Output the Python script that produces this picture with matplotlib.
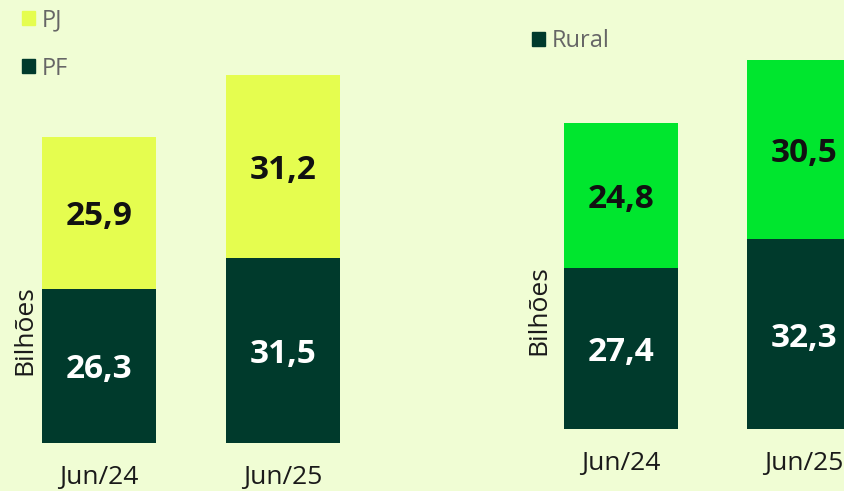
import matplotlib.pyplot as plt
from matplotlib.patches import Patch

# data
categories = ["Jun/24", "Jun/25"]
pf = [26.3, 31.5]
pj = [25.9, 31.2]
rural = [27.4, 32.3]
rural_other = [24.8, 30.5]

bg = "#f0fdd4"
dark = "#003a2c"
yellow = "#e5fd4f"
green = "#00e62e"

W, H = 845, 491
fig = plt.figure(figsize=(W / 100, H / 100), dpi=100, facecolor=bg)

# axes positions in pixels: left, bottom(from bottom), width
ax1 = fig.add_axes([7 / W, 48 / H, 368 / W, 411 / H])
ax2 = fig.add_axes([529 / W, 62 / H, 367 / W, 411 / H])

x = [0, 1]
for ax, low, high, c_high in [(ax1, pf, pj, yellow), (ax2, rural, rural_other, green)]:
    ax.set_facecolor(bg)
    ax.bar(x, low, width=0.62, color=dark)
    ax.bar(x, high, bottom=low, width=0.62, color=c_high)
    for i in range(2):
        ax.annotate(f"{low[i]:.1f}".replace(".", ","), (x[i], low[i] / 2),
                    xytext=(0, -3), textcoords="offset points", ha="center", va="center",
                    color="white", fontsize=24, fontweight="bold", family="Open Sans")
        ax.annotate(f"{high[i]:.1f}".replace(".", ","), (x[i], low[i] + high[i] / 2),
                    xytext=(0, -3), textcoords="offset points", ha="center", va="center",
                    color="#111111", fontsize=24, fontweight="bold", family="Open Sans")
    ax.set_xlim(-0.5, 1.5)
    ax.set_ylim(0, 70)
    ax.set_xticks(x)
    ax.set_xticklabels(categories, fontsize=19, color="#1a1a1a", family="Open Sans")
    ax.tick_params(axis="x", length=0, pad=16)
    ax.set_yticks([])
    for s in ax.spines.values():
        s.set_visible(False)

# y labels
fig.text(25 / W, 1 - 330 / H, "Bilhões", rotation=90, ha="center", va="center",
         fontsize=19, color="#1a1a1a", family="Open Sans")
fig.text(539 / W, 1 - 310 / H, "Bilhões", rotation=90, ha="center", va="center",
         fontsize=19, color="#1a1a1a", family="Open Sans")

# legends
fig.legend(handles=[Patch(color=yellow, label="PJ"), Patch(color=dark, label="PF")],
           loc="upper left", bbox_to_anchor=(22 / W, 1 - 8 / H), frameon=False,
           borderpad=0, borderaxespad=0,
           handlelength=0.55, handleheight=0.55, handletextpad=0.3, labelspacing=1.04,
           prop={"family": "Open Sans", "size": 17}, labelcolor="#666666")
fig.legend(handles=[Patch(color=dark, label="Rural")],
           loc="upper left", bbox_to_anchor=(532 / W, 1 - 29 / H), frameon=False,
           borderpad=0, borderaxespad=0,
           handlelength=0.55, handleheight=0.55, handletextpad=0.3,
           prop={"family": "Open Sans", "size": 17}, labelcolor="#666666")

fig.savefig("out.png", dpi=100, facecolor=bg)
